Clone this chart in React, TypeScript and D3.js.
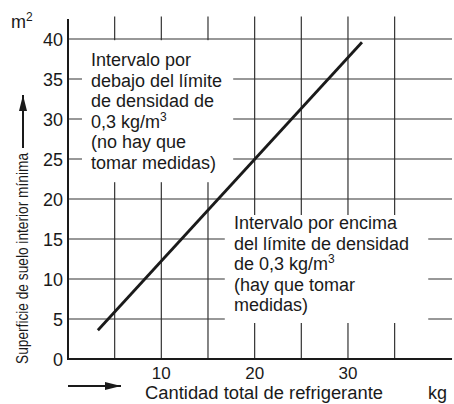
import React, { useEffect, useRef } from 'react';
import * as d3 from 'd3';

// refrigerant (kg) vs minimum floor area (m²)
const limitLine: [number, number][] = [
  [3.2, 3.6],
  [31.5, 39.6],
];
const yTicks = [0, 5, 10, 15, 20, 25, 30, 35, 40];
const xTickLabels = [10, 20, 30];
const xGrid = [5, 10, 15, 20, 25, 30, 35];
const yGrid = [5, 10, 15, 20, 25, 30, 35, 40];

const upperText = [
  'Intervalo por',
  'debajo del límite',
  'de densidad de',
  '0,3 kg/m',
  '(no hay que',
  'tomar medidas)',
];
const lowerText = [
  'Intervalo por encima',
  'del límite de densidad',
  'de 0,3 kg/m',
  '(hay que tomar',
  'medidas)',
];

const FONT = '"Liberation Sans", Arial, sans-serif';

const App = () => {
  const ref = useRef<SVGSVGElement>(null);

  useEffect(() => {
    const width = 454;
    const height = 404;
    const svg = d3.select(ref.current).attr('width', width).attr('height', height);
    svg.selectAll('*').remove();

    const x = d3.scaleLinear().domain([0, 40]).range([68, 441.3]);
    const y = d3.scaleLinear().domain([0, 40]).range([359, 39]);
    const xEnd = 41.15;
    const yTop = 42.5;

    const ink = '#1a1a1a';

    // grid
    svg.append('g')
      .selectAll('line')
      .data(xGrid)
      .enter()
      .append('line')
      .attr('x1', d => x(d))
      .attr('x2', d => x(d))
      .attr('y1', y(0))
      .attr('y2', y(42.8))
      .attr('stroke', '#333')
      .attr('stroke-width', 1.2);

    svg.append('g')
      .selectAll('line')
      .data(yGrid)
      .enter()
      .append('line')
      .attr('x1', x(0))
      .attr('x2', x(xEnd))
      .attr('y1', d => y(d))
      .attr('y2', d => y(d))
      .attr('stroke', '#333')
      .attr('stroke-width', 1.2);

    // white boxes behind the annotations
    const boxes = [
      { x0: 1.5, x1: 17.7, y0: 39.85, y1: 22.1 },
      { x0: 16.8, x1: 38.6, y0: 18, y1: 4.5 },
    ];
    svg.append('g')
      .selectAll('rect')
      .data(boxes)
      .enter()
      .append('rect')
      .attr('x', d => x(d.x0))
      .attr('y', d => y(d.y0))
      .attr('width', d => x(d.x1) - x(d.x0))
      .attr('height', d => y(d.y1) - y(d.y0))
      .attr('fill', '#fff');

    // axes
    svg.append('line')
      .attr('x1', x(0)).attr('x2', x(0))
      .attr('y1', y(0)).attr('y2', y(yTop))
      .attr('stroke', ink).attr('stroke-width', 2);
    svg.append('line')
      .attr('x1', x(0) - 1).attr('x2', x(xEnd))
      .attr('y1', y(0)).attr('y2', y(0))
      .attr('stroke', ink).attr('stroke-width', 2);

    // tick labels
    svg.append('g')
      .selectAll('text')
      .data(yTicks)
      .enter()
      .append('text')
      .attr('x', x(0) - 5)
      .attr('y', d => y(d) + 6.5)
      .attr('text-anchor', 'end')
      .style('font-family', FONT)
      .style('font-size', '18px')
      .attr('fill', ink)
      .text(d => d);

    svg.append('g')
      .selectAll('text')
      .data(xTickLabels)
      .enter()
      .append('text')
      .attr('x', d => x(d))
      .attr('y', 379)
      .attr('text-anchor', 'middle')
      .style('font-family', FONT)
      .style('font-size', '17px')
      .attr('fill', ink)
      .text(d => d);

    // density limit line
    svg.append('path')
      .datum(limitLine)
      .attr('d', d3.line<[number, number]>().x(d => x(d[0])).y(d => y(d[1])))
      .attr('stroke', ink)
      .attr('stroke-width', 2.8)
      .attr('fill', 'none');

    // annotation text
    const addBlock = (lines: string[], x0: number, y0: number, supLine: number) => {
      const g = svg.append('g');
      lines.forEach((s, i) => {
        const t = g.append('text')
          .attr('x', x0)
          .attr('y', y0 + i * 20.6)
          .style('font-family', FONT)
          .style('font-size', '18px')
          .attr('fill', ink);
        t.append('tspan').text(s);
        if (i === supLine) {
          t.append('tspan').attr('dy', -7).style('font-size', '12px').text('3');
        }
      });
    };
    addBlock(upperText, 91, 66, 3);
    addBlock(lowerText, 234, 229, 2);

    // unit labels
    const m2 = svg.append('text')
      .attr('x', 11)
      .attr('y', 28)
      .style('font-family', FONT)
      .style('font-size', '18px')
      .attr('fill', ink);
    m2.append('tspan').text('m');
    m2.append('tspan').attr('dy', -7).style('font-size', '12px').text('2');

    svg.append('text')
      .attr('x', 428)
      .attr('y', 399)
      .style('font-family', FONT)
      .style('font-size', '18px')
      .attr('fill', ink)
      .text('kg');

    // axis titles
    svg.append('text')
      .attr('x', 145)
      .attr('y', 399)
      .attr('textLength', 238)
      .attr('lengthAdjust', 'spacingAndGlyphs')
      .style('font-family', FONT)
      .style('font-size', '18px')
      .attr('fill', ink)
      .text('Cantidad total de refrigerante');

    svg.append('text')
      .attr('transform', 'translate(27.5,364) rotate(-90)')
      .attr('textLength', 211)
      .attr('lengthAdjust', 'spacingAndGlyphs')
      .style('font-family', FONT)
      .style('font-size', '17px')
      .attr('fill', ink)
      .text('Superficie de suelo interior mínima');

    // arrows
    svg.append('defs')
      .append('marker')
      .attr('id', 'head')
      .attr('viewBox', '0 0 16 8')
      .attr('refX', 16)
      .attr('refY', 4)
      .attr('markerWidth', 16)
      .attr('markerHeight', 8)
      .attr('markerUnits', 'userSpaceOnUse')
      .attr('orient', 'auto')
      .append('path')
      .attr('d', 'M0,0L16,4L0,8Z')
      .attr('fill', ink);

    svg.append('line')
      .attr('x1', 68).attr('x2', 121)
      .attr('y1', 386).attr('y2', 386)
      .attr('stroke', ink).attr('stroke-width', 2)
      .attr('marker-end', 'url(#head)');

    svg.append('line')
      .attr('x1', 23).attr('x2', 23)
      .attr('y1', 148).attr('y2', 95)
      .attr('stroke', ink).attr('stroke-width', 2)
      .attr('marker-end', 'url(#head)');
  }, []);

  return <svg ref={ref} style={{ position: 'absolute', left: 0, top: 0 }} />;
};

export default App;
